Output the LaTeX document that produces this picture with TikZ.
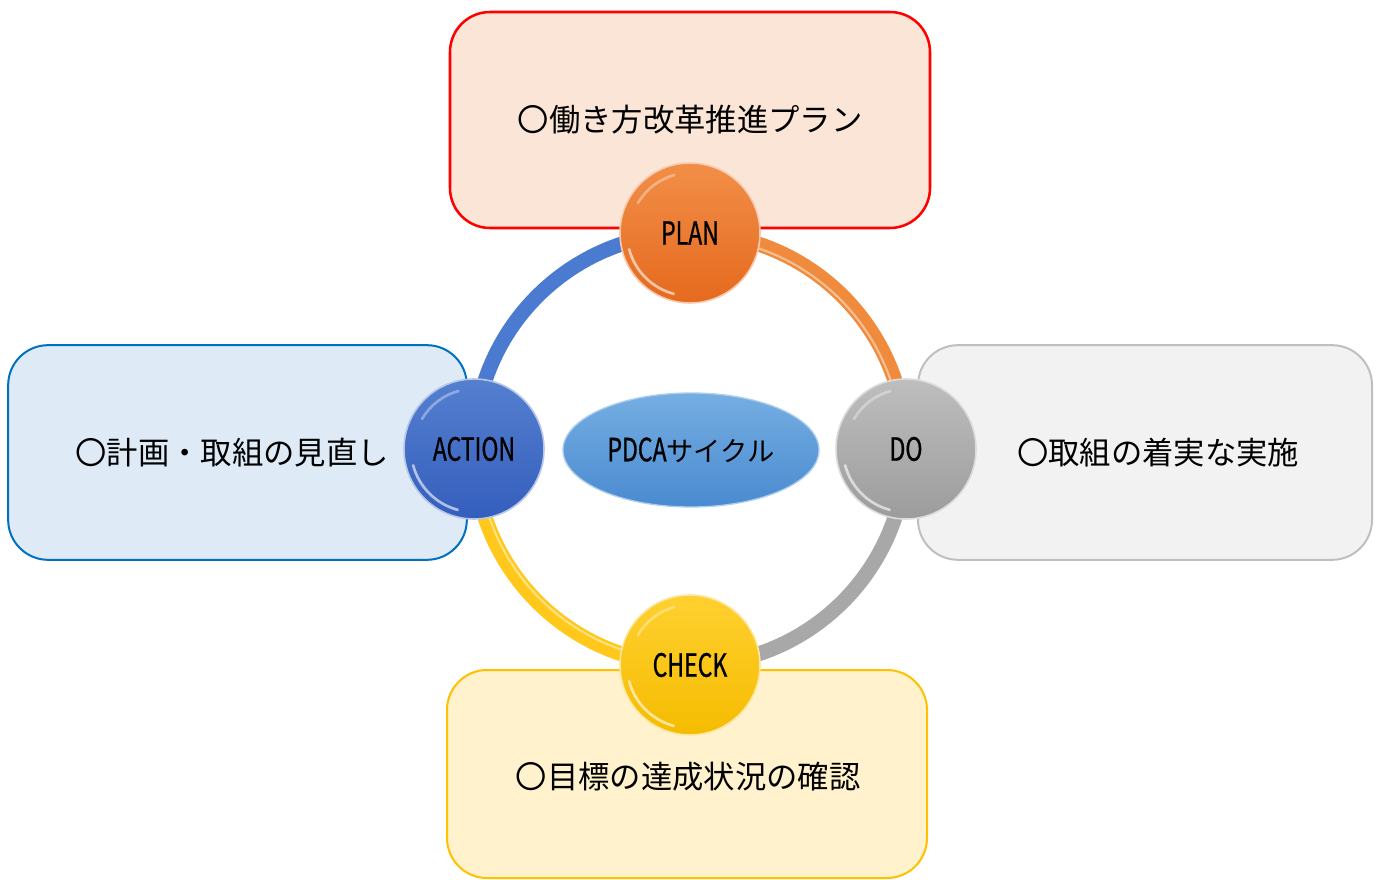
\documentclass[tikz,border=0pt]{standalone}
\usepackage{fontspec}
\setmainfont{Noto Sans CJK JP}
\newfontfamily\cjk{Noto Sans CJK JP}
\newfontfamily\cond[FakeStretch=0.72,FakeBold=0.8]{Noto Sans CJK JP}
\usetikzlibrary{shapes.geometric}
\definecolor{planfill}{HTML}{FBE5D6}
\definecolor{planline}{HTML}{FF0000}
\definecolor{actfill}{HTML}{DEEBF7}
\definecolor{actline}{HTML}{0070C0}
\definecolor{dofill}{HTML}{F2F2F2}
\definecolor{doline}{HTML}{BFBFBF}
\definecolor{chkfill}{HTML}{FFF2CC}
\definecolor{chkline}{HTML}{FFC000}
\definecolor{orangeM}{HTML}{E56A1E}
\definecolor{orangeL}{HTML}{F28E48}
\definecolor{blueM}{HTML}{345EBC}
\definecolor{blueL}{HTML}{5580D0}
\definecolor{grayM}{HTML}{9C9C9C}
\definecolor{grayL}{HTML}{BEBEBE}
\definecolor{goldM}{HTML}{F5BC00}
\definecolor{goldL}{HTML}{FFD030}
\definecolor{arcO}{HTML}{F08A3C}
\definecolor{arcB}{HTML}{4A7BD0}
\definecolor{arcG}{HTML}{A8A8A8}
\definecolor{arcY}{HTML}{FFC81A}
\definecolor{ellM}{HTML}{4A8AD0}
\definecolor{ellL}{HTML}{75AEE2}
\begin{document}
\begin{tikzpicture}[x=0.75pt,y=-0.75pt,
  box/.style={rounded corners=30pt, line width=1.5pt, minimum width=#1},
  box/.default=360pt,
  boxtext/.style={font=\cjk\fontsize{23.5}{26}\selectfont, inner sep=0pt},
  ring/.style={line width=11.25pt},
  ringhl/.style={line width=1.6pt, white, opacity=0.45},
  ball/.style={circle, minimum size=105pt, inner sep=0pt, draw=#1!35!white, line width=1.2pt,
     font=\cond\fontsize{24}{26}\selectfont},
  hl/.style={white, opacity=0.6, line width=2pt, line cap=round}
]
\useasboundingbox (0,0) rectangle (1378,880);

% boxes
\node[box, draw=planline, line width=1.9pt, fill=planfill, minimum height=162pt] (planbox) at (690,120) {};
\node[box=344pt, draw=actline, fill=actfill, minimum height=161pt] (actbox) at (237.5,452.5) {};
\node[box=340.5pt, draw=doline, fill=dofill, minimum height=161pt] (dobox) at (1145,452.5) {};
\node[box, draw=chkline, fill=chkfill, minimum height=156pt] (chkbox) at (687,774) {};

\node[boxtext] (plantext) at (690,120) {〇働き方改革推進プラン};
\node[boxtext] (acttext) at (232,453) {〇計画・取組の見直し};
\node[boxtext] (dotext) at (1158,453) {〇取組の着実な実施};
\node[boxtext] (chktext) at (688,777) {〇目標の達成状況の確認};

% ring anchor positions
\coordinate (planc) at (690,233);
\coordinate (doc) at (906,449);
\coordinate (checkc) at (690,665);
\coordinate (actionc) at (474,449);

% arcs
\draw[ring, arcO] (planc) arc[start angle=-90, end angle=0, radius=216];
\draw[ring, arcG] (doc) arc[start angle=0, end angle=90, radius=216];
\draw[ring, arcY] (checkc) arc[start angle=90, end angle=180, radius=216];
\draw[ring, arcB] (actionc) arc[start angle=180, end angle=270, radius=216];
\draw[ringhl] (planc) ++(0,4) arc[start angle=-90, end angle=0, radius=212];
\draw[ringhl] (checkc) ++(0,-4) arc[start angle=90, end angle=180, radius=212];

% balls
\node[ball=orangeM, top color=orangeL, bottom color=orangeM] (plan) at (planc) {PLAN};
\node[ball=grayM, top color=grayL, bottom color=grayM] (do) at (doc) {DO};
\node[ball=goldM, top color=goldL, bottom color=goldM] (check) at (checkc) {CHECK};
\node[ball=blueM, top color=blueL, bottom color=blueM] (action) at (actionc) {ACTION};

\foreach \b in {plan,do,check,action}{
  \draw[hl] (\b.center) ++(105:63) arc[start angle=105, end angle=165, radius=63];
  \draw[hl, opacity=0.35] (\b.center) ++(-150:60) arc[start angle=-150, end angle=-105, radius=60];
}

% centre ellipse
\node[ellipse, minimum width=192pt, minimum height=85.5pt, inner sep=0pt,
      top color=ellL, bottom color=ellM, draw=ellL!60!white, line width=1pt] (pdca) at (691,450)
      {{\cond\fontsize{24}{26}\selectfont PDCA}{\cjk\fontsize{20.5}{24}\selectfont サイクル}};
\end{tikzpicture}
\end{document}
